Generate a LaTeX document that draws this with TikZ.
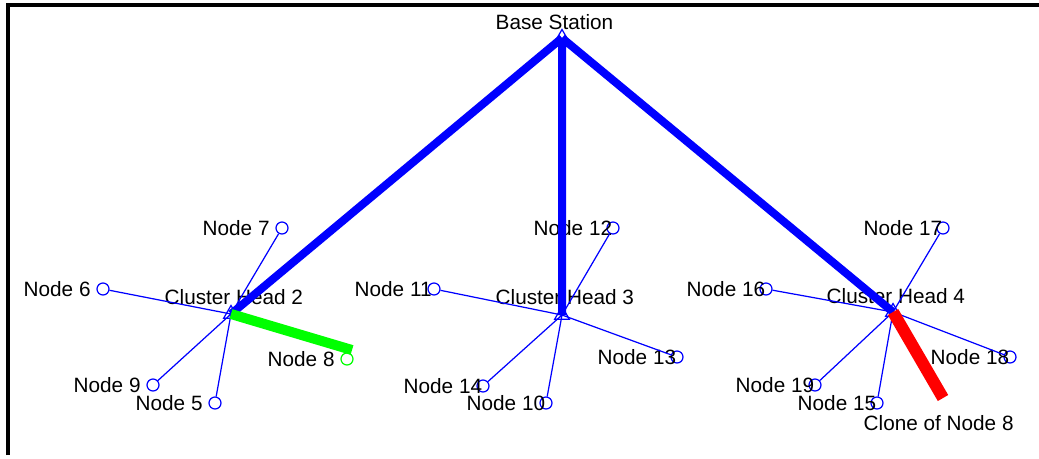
\documentclass[tikz,border=0pt]{standalone}
\usepackage{fontspec}
\setmainfont{Liberation Sans}
\usetikzlibrary{shapes.geometric}

\tikzset{
  memb/.style={circle, draw=blue, line width=0.35pt, minimum size=1.2mm, inner sep=0pt},
  head/.style={regular polygon, regular polygon sides=3, draw=blue, line width=0.35pt, minimum size=1.7mm, inner sep=0pt},
  txt/.style={font=\fontsize{5.9}{7}\selectfont, inner sep=0pt, anchor=west},
  link/.style={blue, line width=0.35pt},
  trunk/.style={blue, line width=0.8mm},
}

\begin{document}
\begin{tikzpicture}[x=0.1mm,y=-0.1mm]
        \useasboundingbox (0,0) rectangle (1039,458);
        % frame
        \draw[line width=0.4mm] (8,455) -- (8,5) -- (1039,5);

        % base station and cluster heads
        \draw (562,38)  node[head] (bs)  {};
        \draw (231,314) node[head] (ch2) {};
        \draw (562,315) node[head] (ch3) {};
        \draw (893,312) node[head] (ch4) {};
        \node[txt] at ([xshift=-6.7mm,yshift=1.6mm]bs.center)  {Base Station};
        \node[txt] at ([xshift=-6.7mm,yshift=1.7mm]ch2.center) {Cluster Head 2};
        \node[txt] at ([xshift=-6.7mm,yshift=1.8mm]ch3.center) {Cluster Head 3};
        \node[txt] at ([xshift=-6.7mm,yshift=1.6mm]ch4.center) {Cluster Head 4};

        % members
        \draw (282,228)  node[memb] (n7)  {};
        \draw (103,289)  node[memb] (n6)  {};
        \draw (347,359)  node[memb,draw=green] (n8) {};
        \draw (153,385)  node[memb] (n9)  {};
        \draw (215,403)  node[memb] (n5)  {};
        \draw (613,228)  node[memb] (n12) {};
        \draw (434,289)  node[memb] (n11) {};
        \draw (677,357)  node[memb] (n13) {};
        \draw (483,386)  node[memb] (n14) {};
        \draw (546,403)  node[memb] (n10) {};
        \draw (943,228)  node[memb] (n17) {};
        \draw (766,289)  node[memb] (n16) {};
        \draw (1010,357) node[memb] (n18) {};
        \draw (815,385)  node[memb] (n19) {};
        \draw (877,403)  node[memb] (n15) {};
        \coordinate (n8end) at (352,350);
        \coordinate (clone) at (943,398);

        \node[txt] at ([xshift=-8mm]n7.center)  {Node 7};
        \node[txt] at ([xshift=-8mm]n6.center)  {Node 6};
        \node[txt] at ([xshift=-8mm]n8.center)  {Node 8};
        \node[txt] at ([xshift=-8mm]n9.center)  {Node 9};
        \node[txt] at ([xshift=-8mm]n5.center)  {Node 5};
        \node[txt] at ([xshift=-8mm]n12.center) {Node 12};
        \node[txt] at ([xshift=-8mm]n11.center) {Node 11};
        \node[txt] at ([xshift=-8mm]n13.center) {Node 13};
        \node[txt] at ([xshift=-8mm]n14.center) {Node 14};
        \node[txt] at ([xshift=-8mm]n10.center) {Node 10};
        \node[txt] at ([xshift=-8mm]n17.center) {Node 17};
        \node[txt] at ([xshift=-8mm]n16.center) {Node 16};
        \node[txt] at ([xshift=-8mm]n18.center) {Node 18};
        \node[txt] at ([xshift=-8mm]n19.center) {Node 19};
        \node[txt] at ([xshift=-8mm]n15.center) {Node 15};
        \node[txt] at ([xshift=-8mm,yshift=-2.5mm]clone) {Clone of Node 8};

        % cluster links
        \draw[link] (ch2.center) -- (n7)  (ch2.center) -- (n6)
                    (ch2.center) -- (n9)  (ch2.center) -- (n5);
        \draw[link] (ch3.center) -- (n12) (ch3.center) -- (n11)
                    (ch3.center) -- (n13) (ch3.center) -- (n14)
                    (ch3.center) -- (n10);
        \draw[link] (ch4.center) -- (n17) (ch4.center) -- (n16)
                    (ch4.center) -- (n18) (ch4.center) -- (n19)
                    (ch4.center) -- (n15);

        % trunk links
        \draw[trunk] (bs.center) -- (ch2.center)
                     (bs.center) -- (ch3.center)
                     (bs.center) -- (ch4.center);
        \draw[green, line width=1mm] (ch2.center) -- (n8end);
        \draw[red, line width=1.2mm] (ch4.center) -- (clone);
    \end{tikzpicture}
\end{document}
